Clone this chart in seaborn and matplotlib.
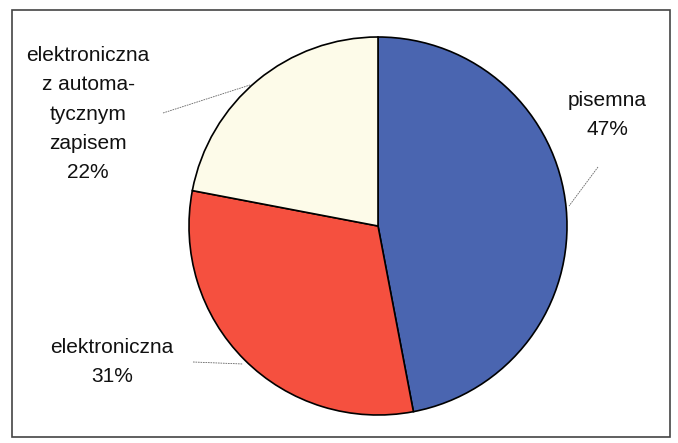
import seaborn as sns
import matplotlib.pyplot as plt
from matplotlib.patches import Rectangle

# data
labels = ["pisemna", "elektroniczna", "elektroniczna\nz automa-\ntycznym\nzapisem"]
shares = [47, 31, 22]
colors = ["#4a65b0", "#f5503f", "#fdfbe9"]

sns.set_theme(style="white")
plt.rcParams['font.family'] = ['Liberation Sans', 'DejaVu Sans']

fig = plt.figure(figsize=(6.78, 4.43), dpi=100)
ax = fig.add_axes([0, 0, 1, 1])
ax.set_xlim(0, 678)
ax.set_ylim(0, 443)
ax.set_aspect('equal')
ax.axis('off')

wedges, _ = ax.pie(shares, colors=colors, startangle=90, counterclock=False,
                   center=(378, 217), radius=189,
                   wedgeprops=dict(edgecolor='black', linewidth=1.2))
ax.set_xlim(0, 678)
ax.set_ylim(0, 443)

# frame around the chart
ax.add_patch(Rectangle((12, 6), 658, 427, fill=False, edgecolor='#444444', lw=1.2))

# labels with leader lines
text_pos = [(607, 328), (112, 81), (88, 329)]
line_from = [(598, 276), (193, 81), (163, 330)]
line_to = [(569, 237), (243, 79), (250, 358)]
for lab, s, tp, a, b in zip(labels, shares, text_pos, line_from, line_to):
    ax.text(tp[0], tp[1], f"{lab}\n{s}%", ha='center', va='center',
            fontsize=15, linespacing=1.68, color='#111111')
    ax.plot([a[0], b[0]], [a[1], b[1]], color='#666666', lw=0.6, ls=(0, (2, 1)))

plt.savefig("out.png", dpi=100)
